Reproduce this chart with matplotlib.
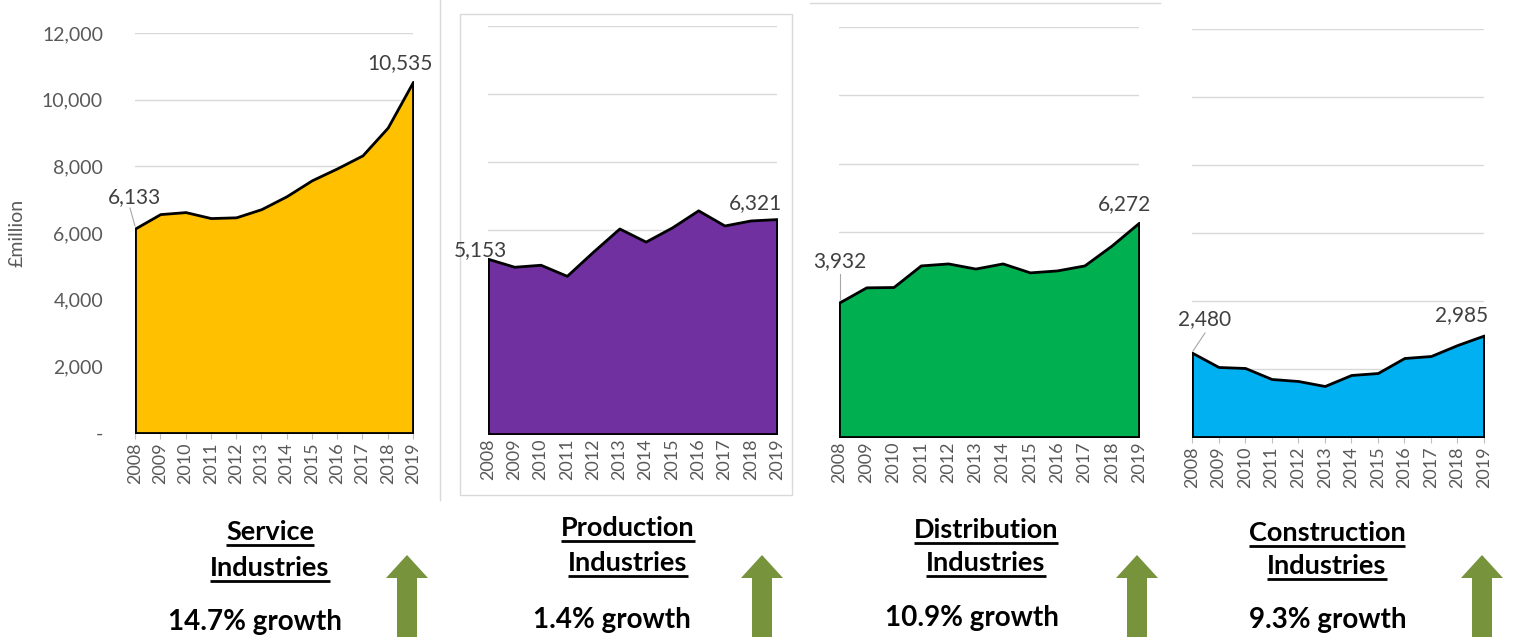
import matplotlib
matplotlib.use("Agg")
import matplotlib.pyplot as plt
from matplotlib.patches import Polygon, Rectangle
from matplotlib.ticker import FuncFormatter

plt.rcParams['font.family'] = ['Lato', 'DejaVu Sans']

years = list(range(2008, 2020))

service = [6133, 6567, 6627, 6448, 6470, 6716, 7104, 7582, 7940, 8328, 9164, 10535]
production = [5153, 4919, 4978, 4652, 5363, 6044, 5659, 6074, 6578, 6133, 6281, 6321]
distribution = [3932, 4380, 4390, 5022, 5080, 4930, 5080, 4818, 4876, 5022, 5606, 6272]
construction = [2480, 2059, 2030, 1706, 1647, 1500, 1824, 1882, 2324, 2382, 2706, 2985]

names = ["Service\nIndustries", "Production\nIndustries",
         "Distribution\nIndustries", "Construction\nIndustries"]
growth = ["14.7% growth", "1.4% growth", "10.9% growth", "9.3% growth"]
colors = ["#FFC000", "#7030A0", "#00B050", "#00B0F0"]
series = [service, production, distribution, construction]

W, H = 1523, 640
fig = plt.figure(figsize=(W / 100, H / 100), dpi=100)

# overlay in pixel coords for frames, titles and arrows
bg = fig.add_axes([0, 0, 1, 1], zorder=0)
bg.set_xlim(0, W)
bg.set_ylim(H, 0)
bg.axis("off")


def px_axes(x0, x1, y0, y12):
    # x0/x1 = pixel x of 2008/2019, y0 = pixel y of 0, y12 = pixel y of 12,000
    return fig.add_axes([x0 / W, 1 - y0 / H, (x1 - x0) / W, (y0 - y12) / H], zorder=2)


boxes = [(135, 413, 433, 33), (488, 777, 434, 26), (839, 1139, 437, 27), (1192, 1484, 437, 29)]

# panel frames
bg.plot([440, 440], [0, 500], color="#d9d9d9", lw=1)
bg.add_patch(Rectangle((460, 14), 332, 481, fill=False, ec="#d9d9d9", lw=1))
bg.plot([810, 1160], [3, 3], color="#d9d9d9", lw=1)

label_pos = [((135, 197), (400, 63)), ((480, 250), (756, 203)),
             ((840, 261), (1125, 204)), ((1205, 319), (1462, 315))]

for i, (vals, col, box) in enumerate(zip(series, colors, boxes)):
    ax = px_axes(*box)
    ax.set_xlim(2008, 2019)
    ax.set_ylim(0, 12000)
    ax.set_yticks(range(0, 12001, 2000))
    ax.grid(axis="y", color="#d9d9d9", lw=1)
    ax.set_axisbelow(True)
    ax.fill_between(years, vals, 0, facecolor=col, edgecolor="black", linewidth=2.0, zorder=3)
    for s in ax.spines.values():
        s.set_visible(False)
    ax.set_xticks(years)
    ax.set_xticklabels([str(y) for y in years], rotation=90, fontsize=13, color="#595959")
    ticklen = 4 if i in (0, 3) else 0
    ax.tick_params(axis="x", length=ticklen, color="#bfbfbf", pad=3)
    if i == 0:
        ax.yaxis.set_major_formatter(FuncFormatter(lambda v, p: "-" if v == 0 else f"{int(v):,}"))
        ax.tick_params(axis="y", length=0, pad=23, labelsize=14, labelcolor="#595959")
        ax.set_ylabel("£million", fontsize=14, color="#595959", labelpad=12)
    else:
        ax.tick_params(axis="y", length=0, labelleft=False)
    ax.patch.set_alpha(0)

    # data labels in pixel coords
    (lx0, ly0), (lx1, ly1) = label_pos[i]
    bg.text(lx0, ly0, f"{vals[0]:,}", ha="center", va="center", fontsize=15, color="#404040", zorder=5)
    bg.text(lx1, ly1, f"{vals[-1]:,}", ha="center", va="center", fontsize=15, color="#404040", zorder=5)

# leader lines
bg.plot([130, 135], [208, 226], color="#a6a6a6", lw=0.8)
bg.plot([840, 840], [274, 300], color="#a6a6a6", lw=0.8)
bg.plot([1205, 1193], [333, 351], color="#a6a6a6", lw=0.8)

# titles, growth text, arrows
title_pos = [(270, 532, 568, 255, 622), (628, 528, 563, 612, 620),
             (986, 530, 563, 972, 618), (1327, 533, 566, 1328, 620)]
arrow_x = [407, 762, 1137, 1482]

fig.canvas.draw()
renderer = fig.canvas.get_renderer()
inv = bg.transData.inverted()

for name, g, (tx, ty1, ty2, gx, gy), ax_ in zip(names, growth, title_pos, arrow_x):
    for line, ty in zip(name.split("\n"), (ty1, ty2)):
        t = bg.text(tx, ty, line, ha="center", va="center", fontsize=19.5, fontweight="bold", color="black")
        bb = t.get_window_extent(renderer)
        (x0, yb), (x1, _) = inv.transform([(bb.x0, bb.y0), (bb.x1, bb.y1)])
        bg.plot([x0, x1], [yb + 1, yb + 1], color="black", lw=2, solid_capstyle="butt")
    bg.text(gx, gy, g, ha="center", va="center", fontsize=20, fontweight="bold", color="black")
    arrow = Polygon([(ax_ - 10, 637), (ax_ - 10, 578), (ax_ - 21, 578), (ax_, 555),
                     (ax_ + 21, 578), (ax_ + 10, 578), (ax_ + 10, 637)],
                    closed=True, facecolor="#77933C", edgecolor="none")
    bg.add_patch(arrow)

fig.savefig("out.png", dpi=100)
